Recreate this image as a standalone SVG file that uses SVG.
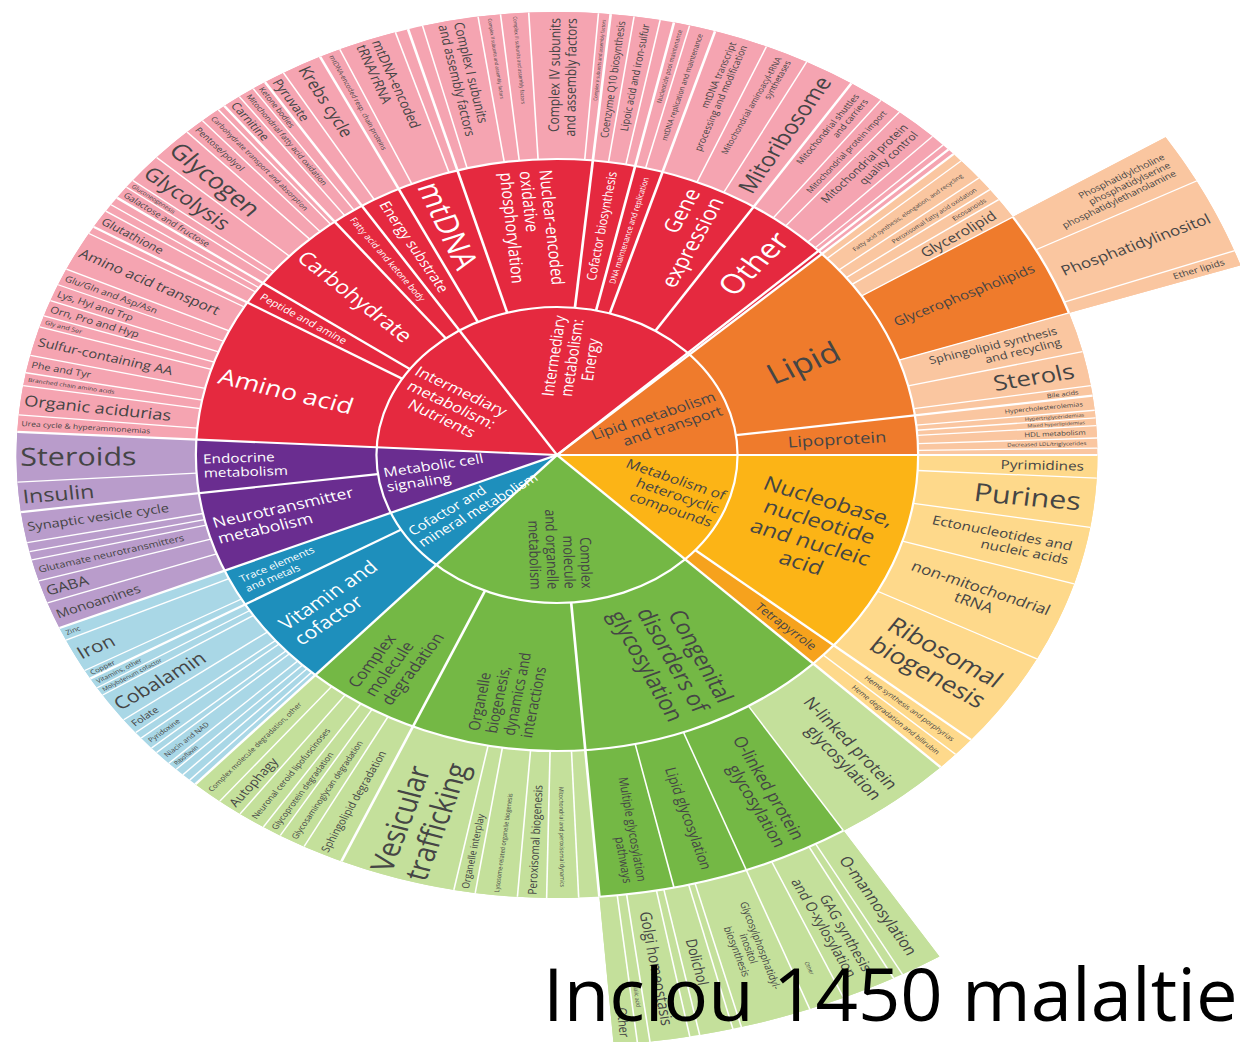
<svg xmlns="http://www.w3.org/2000/svg" width="1240" height="1042" viewBox="0 0 1240 1042">
<style>
.s{fill:none}
.k1{stroke-width:148}
.k3{stroke-width:147}
.red{stroke:#E5293F}.pink{stroke:#F5A4B1}.org{stroke:#EF7B2C}.pch{stroke:#FAC6A0}.yel{stroke:#FCB416}.tet{stroke:#F6A21D}.lyel{stroke:#FED98B}.grn{stroke:#74B845}.lgrn{stroke:#C4E09B}.blu{stroke:#1E8FBC}.lblu{stroke:#A9D7E6}.pur{stroke:#6A2D90}.lpur{stroke:#B99CCB}
text{font-family:"Open Sans","Noto Sans","DejaVu Sans",sans-serif}
.w{fill:#fff}.d{fill:#454545}
.ts{text-anchor:start}.te{text-anchor:end}.tm{text-anchor:middle}
.sp{stroke:#fff;stroke-width:2.2;vector-effect:non-scaling-stroke;fill:none}
.sq{stroke:#fff;stroke-width:1.3;vector-effect:non-scaling-stroke;fill:none}
.sa{stroke:#fff;stroke-width:2;fill:none}
</style>
<rect width="1240" height="1042" fill="#fff"/>
<g id="sunburst" transform="translate(557,455) scale(1.22,1)">
<g id="bases">
<circle class="s k3 pink" r="369.5" pathLength="360" stroke-dasharray="134.2 360" transform="rotate(183)"/>
<circle class="s k3 pch" r="369.5" pathLength="360" stroke-dasharray="42.8 360" transform="rotate(317.2)"/>
<circle class="s k3 lyel" r="369.5" pathLength="360" stroke-dasharray="44.8 360" transform="rotate(0)"/>
<circle class="s k3 lgrn" r="369.5" pathLength="360" stroke-dasharray="87.2 360" transform="rotate(44.8)"/>
<circle class="s k3 lblu" r="369.5" pathLength="360" stroke-dasharray="25 360" transform="rotate(132)"/>
<circle class="s k3 lpur" r="369.5" pathLength="360" stroke-dasharray="26 360" transform="rotate(157)"/>
<circle class="s k1 pch" r="517.5" pathLength="360" stroke-dasharray="13.8 360" transform="rotate(327.5)"/>
<circle class="s k1 lgrn" r="517.5" pathLength="360" stroke-dasharray="27.5 360" transform="rotate(58)"/>
</g>

<g id="ring1">
<g id="n-energy"><circle class="s k1 red" r="74" pathLength="360" stroke-dasharray="79.9 360" transform="rotate(237.3)"/><text class="w tm" font-size="13.5" transform="rotate(277.25) translate(98)"><tspan x="0" dy="-0.77em">Intermediary</tspan><tspan x="0" dy="1.12em">metabolism:</tspan><tspan x="0" dy="1.12em">Energy</tspan></text></g>
<g id="n-nutrients"><circle class="s k1 red" r="74" pathLength="360" stroke-dasharray="54.3 360" transform="rotate(183)"/><text class="w tm" font-size="14" transform="rotate(210.15) translate(100) rotate(180)"><tspan x="0" dy="-0.77em">Intermediary</tspan><tspan x="0" dy="1.12em">metabolism:</tspan><tspan x="0" dy="1.12em">Nutrients</tspan></text></g>
<g id="n-lipidmt"><circle class="s k1 org" r="74" pathLength="360" stroke-dasharray="42.8 360" transform="rotate(317.2)"/><text class="d te" font-size="13.5" transform="rotate(338.6) translate(142)"><tspan x="0" dy="-0.21em">Lipid metabolism</tspan><tspan x="0" dy="1.12em">and transport</tspan></text></g>
<g id="n-hetero"><circle class="s k1 yel" r="74" pathLength="360" stroke-dasharray="44.8 360" transform="rotate(0)"/><text class="d te" font-size="13" transform="rotate(22.4) translate(143)"><tspan x="0" dy="-0.77em">Metabolism of</tspan><tspan x="0" dy="1.12em">heterocyclic</tspan><tspan x="0" dy="1.12em">compounds</tspan></text></g>
<g id="n-complexmo"><circle class="s k1 grn" r="74" pathLength="360" stroke-dasharray="87.2 360" transform="rotate(44.8)"/><text class="d te" font-size="12.5" transform="rotate(88.4) translate(134)"><tspan x="0" dy="-1.33em">Complex</tspan><tspan x="0" dy="1.12em">molecule</tspan><tspan x="0" dy="1.12em">and organelle</tspan><tspan x="0" dy="1.12em">metabolism</tspan></text></g>
<g id="n-cofmin"><circle class="s k1 blu" r="74" pathLength="360" stroke-dasharray="25 360" transform="rotate(132)"/><text class="w ts" font-size="12.5" transform="rotate(144.5) translate(143) rotate(180)"><tspan x="0" dy="-0.21em">Cofactor and</tspan><tspan x="0" dy="1.12em">mineral metabolism</tspan></text></g>
<g id="n-signal"><circle class="s k1 pur" r="74" pathLength="360" stroke-dasharray="26 360" transform="rotate(157)"/><text class="w ts" font-size="13" transform="rotate(170) translate(143) rotate(180)"><tspan x="0" dy="-0.21em">Metabolic cell</tspan><tspan x="0" dy="1.12em">signaling</tspan></text></g>
</g>

<g id="ring2">
<g id="n-aminoacid"><circle class="s k1 red" r="222" pathLength="360" stroke-dasharray="28 360" transform="rotate(183)"/><text class="w ts" font-size="22" dy=".35em" transform="rotate(196) translate(288) rotate(180)">Amino acid</text></g>
<g id="n-peptide"><circle class="s k1 red" r="222" pathLength="360" stroke-dasharray="4.5 360" transform="rotate(211)"/><text class="w ts" font-size="9.5" dy=".35em" transform="rotate(213.25) translate(290) rotate(180)">Peptide and amine</text></g>
<g id="n-carbo"><circle class="s k1 red" r="222" pathLength="360" stroke-dasharray="16.5 360" transform="rotate(215.5)"/><text class="w ts" font-size="19" dy=".35em" transform="rotate(223.75) translate(290) rotate(180)">Carbohydrate</text></g>
<g id="n-fattyket"><circle class="s k1 red" r="222" pathLength="360" stroke-dasharray="5.3 360" transform="rotate(232)"/><text class="w ts" font-size="8" dy=".35em" transform="rotate(234.65) translate(290) rotate(180)">Fatty acid and ketone body</text></g>
<g id="n-energysub"><circle class="s k1 red" r="222" pathLength="360" stroke-dasharray="6.7 360" transform="rotate(237.3)"/><text class="w ts" font-size="13" dy=".35em" transform="rotate(240.65) translate(290) rotate(180)">Energy substrate</text></g>
<g id="n-mtdna"><circle class="s k1 red" r="222" pathLength="360" stroke-dasharray="10 360" transform="rotate(244)"/><text class="w ts" font-size="27" dy=".35em" transform="rotate(248.7) translate(292) rotate(180)">mtDNA</text></g>
<g id="n-nuclear"><circle class="s k1 red" r="222" pathLength="360" stroke-dasharray="21.7 360" transform="rotate(254)"/><text class="w ts" font-size="14.5" transform="rotate(264.85) translate(285) rotate(180)"><tspan x="0" dy="-0.77em">Nuclear-encoded</tspan><tspan x="0" dy="1.12em">oxidative</tspan><tspan x="0" dy="1.12em">phosphorylation</tspan></text></g>
<g id="n-cofbio"><circle class="s k1 red" r="222" pathLength="360" stroke-dasharray="6.8 360" transform="rotate(275.7)"/><text class="w te" font-size="11" dy=".35em" transform="rotate(279.1) translate(287)">Cofactor biosynthesis</text></g>
<g id="n-dnamaint"><circle class="s k1 red" r="222" pathLength="360" stroke-dasharray="4.5 360" transform="rotate(282.5)"/><text class="w te" font-size="7" dy=".35em" transform="rotate(284.75) translate(287)">DNA maintenance and replication</text></g>
<g id="n-geneexp"><circle class="s k1 red" r="222" pathLength="360" stroke-dasharray="16 360" transform="rotate(287)"/><text class="w te" font-size="19" transform="rotate(295) translate(288)"><tspan x="0" dy="-0.21em">Gene</tspan><tspan x="0" dy="1.12em">expression</tspan></text></g>
<g id="n-other"><circle class="s k1 red" r="222" pathLength="360" stroke-dasharray="14.2 360" transform="rotate(303)"/><text class="w te" font-size="27" dy=".35em" transform="rotate(310.1) translate(287)">Other</text></g>
<g id="n-lipid"><circle class="s k1 org" r="222" pathLength="360" stroke-dasharray="35.1 360" transform="rotate(317.2)"/><text class="d tm" font-size="28" dy=".35em" transform="rotate(335.5) translate(222)">Lipid</text></g>
<g id="n-lipoprot"><circle class="s k1 org" r="222" pathLength="360" stroke-dasharray="7.7 360" transform="rotate(352.3)"/><text class="d tm" font-size="15" dy=".35em" transform="rotate(356.15) translate(230)">Lipoprotein</text></g>
<g id="n-nucleobase"><circle class="s k1 yel" r="222" pathLength="360" stroke-dasharray="40 360" transform="rotate(0)"/><text class="d tm" font-size="19.5" transform="rotate(20) translate(225)"><tspan x="0" dy="-1.33em">Nucleobase,</tspan><tspan x="0" dy="1.12em">nucleotide</tspan><tspan x="0" dy="1.12em">and nucleic</tspan><tspan x="0" dy="1.12em">acid</tspan></text></g>
<g id="n-tetrapyr"><circle class="s k1 tet" r="222" pathLength="360" stroke-dasharray="4.8 360" transform="rotate(40)"/><text class="d te" font-size="11" dy=".35em" transform="rotate(42.4) translate(286)">Tetrapyrrole</text></g>
<g id="n-congenital"><circle class="s k1 grn" r="222" pathLength="360" stroke-dasharray="40.7 360" transform="rotate(44.8)"/><text class="d te" font-size="20" transform="rotate(65.15) translate(282)"><tspan x="0" dy="-0.77em">Congenital</tspan><tspan x="0" dy="1.12em">disorders of</tspan><tspan x="0" dy="1.12em">glycosylation</tspan></text></g>
<g id="n-organelle"><circle class="s k1 grn" r="222" pathLength="360" stroke-dasharray="28 360" transform="rotate(85.5)"/><text class="d ts" font-size="13" transform="rotate(99.5) translate(283) rotate(180)"><tspan x="0" dy="-1.33em">Organelle</tspan><tspan x="0" dy="1.12em">biogenesis,</tspan><tspan x="0" dy="1.12em">dynamics and</tspan><tspan x="0" dy="1.12em">interactions</tspan></text></g>
<g id="n-cmdeg"><circle class="s k1 grn" r="222" pathLength="360" stroke-dasharray="18.5 360" transform="rotate(113.5)"/><text class="d ts" font-size="14.5" transform="rotate(122.75) translate(285) rotate(180)"><tspan x="0" dy="-0.77em">Complex</tspan><tspan x="0" dy="1.12em">molecule</tspan><tspan x="0" dy="1.12em">degradation</tspan></text></g>
<g id="n-vitamin"><circle class="s k1 blu" r="222" pathLength="360" stroke-dasharray="17.7 360" transform="rotate(132)"/><text class="w ts" font-size="17.5" transform="rotate(140.85) translate(283) rotate(180)"><tspan x="0" dy="-0.21em">Vitamin and</tspan><tspan x="0" dy="1.12em">cofactor</tspan></text></g>
<g id="n-trace"><circle class="s k1 blu" r="222" pathLength="360" stroke-dasharray="7.3 360" transform="rotate(149.7)"/><text class="w ts" font-size="9.5" transform="rotate(153.35) translate(288) rotate(180)"><tspan x="0" dy="-0.21em">Trace elements</tspan><tspan x="0" dy="1.12em">and metals</tspan></text></g>
<g id="n-neurotrans"><circle class="s k1 pur" r="222" pathLength="360" stroke-dasharray="15.6 360" transform="rotate(157)"/><text class="w ts" font-size="14.5" transform="rotate(164.8) translate(290) rotate(180)"><tspan x="0" dy="-0.21em">Neurotransmitter</tspan><tspan x="0" dy="1.12em">metabolism</tspan></text></g>
<g id="n-endocrine"><circle class="s k1 pur" r="222" pathLength="360" stroke-dasharray="10.4 360" transform="rotate(172.6)"/><text class="w ts" font-size="12.5" transform="rotate(177.8) translate(290) rotate(180)"><tspan x="0" dy="-0.21em">Endocrine</tspan><tspan x="0" dy="1.12em">metabolism</tspan></text></g>
</g>

<g id="ring3">
<g id="n-pyrimidines"><circle class="s k3 lyel" r="369.5" pathLength="360" stroke-dasharray="3 360"/><text class="d te" font-size="12.5" dy=".35em" transform="rotate(1.5) translate(432)">Pyrimidines</text></g>
<g id="n-purines"><circle class="s k3 lyel" r="369.5" pathLength="360" stroke-dasharray="6.4 360" transform="rotate(3)"/><text class="d te" font-size="25" dy=".35em" transform="rotate(6.2) translate(432)">Purines</text></g>
<g id="n-ecto"><circle class="s k3 lyel" r="369.5" pathLength="360" stroke-dasharray="7.5 360" transform="rotate(9.4)"/><text class="d te" font-size="12.5" transform="rotate(13.15) translate(432)"><tspan x="0" dy="-0.21em">Ectonucleotides and</tspan><tspan x="0" dy="1.12em">nucleic acids</tspan></text></g>
<g id="n-nmt"><circle class="s k3 lyel" r="369.5" pathLength="360" stroke-dasharray="10.5 360" transform="rotate(16.9)"/><text class="d tm" font-size="14" transform="rotate(22.15) translate(372)"><tspan x="0" dy="-0.21em">non-mitochondrial</tspan><tspan x="0" dy="1.12em">tRNA</tspan></text></g>
<g id="n-ribo"><circle class="s k3 lyel" r="369.5" pathLength="360" stroke-dasharray="12.6 360" transform="rotate(27.4)"/><text class="d te" font-size="22" transform="rotate(33.7) translate(428)"><tspan x="0" dy="-0.21em">Ribosomal</tspan><tspan x="0" dy="1.12em">biogenesis</tspan></text></g>
<g id="n-heme1"><circle class="s k3 lyel" r="369.5" pathLength="360" stroke-dasharray="2.5 360" transform="rotate(40)"/><text class="d te" font-size="6.5" dy=".35em" transform="rotate(41.25) translate(432)">Heme synthesis and porphyrias</text></g>
<g id="n-heme2"><circle class="s k3 lyel" r="369.5" pathLength="360" stroke-dasharray="2.3 360" transform="rotate(42.5)"/><text class="d te" font-size="6.5" dy=".35em" transform="rotate(43.65) translate(432)">Heme degradation and bilirubin</text></g>
<g id="n-nlink"><circle class="s k3 lgrn" r="369.5" pathLength="360" stroke-dasharray="13.2 360" transform="rotate(44.8)"/><text class="d te" font-size="15" transform="rotate(51.4) translate(432)"><tspan x="0" dy="-0.21em">N-linked protein</tspan><tspan x="0" dy="1.12em">glycosylation</tspan></text></g>
<g id="n-olink"><circle class="s k3 grn" r="369.5" pathLength="360" stroke-dasharray="11.5 360" transform="rotate(58)"/><text class="d te" font-size="15" transform="rotate(63.75) translate(432)"><tspan x="0" dy="-0.21em">O-linked protein</tspan><tspan x="0" dy="1.12em">glycosylation</tspan></text></g>
<g id="n-lipglyc"><circle class="s k3 grn" r="369.5" pathLength="360" stroke-dasharray="8 360" transform="rotate(69.5)"/><text class="d te" font-size="12.5" dy=".35em" transform="rotate(73.5) translate(432)">Lipid glycosylation</text></g>
<g id="n-multi"><circle class="s k3 grn" r="369.5" pathLength="360" stroke-dasharray="8 360" transform="rotate(77.5)"/><text class="d te" font-size="10.5" transform="rotate(81.5) translate(432)"><tspan x="0" dy="-0.21em">Multiple glycosylation</tspan><tspan x="0" dy="1.12em">pathways</tspan></text></g>
<g id="n-mpd"><circle class="s k3 lgrn" r="369.5" pathLength="360" stroke-dasharray="3.4 360" transform="rotate(87.7)"/><text class="d te" font-size="5.2" dy=".35em" transform="rotate(89.4) translate(432)">Mitochondrial and peroxisomal dynamics</text></g>
<g id="n-perox"><circle class="s k3 lgrn" r="369.5" pathLength="360" stroke-dasharray="3.1 360" transform="rotate(91.1)"/><text class="d ts" font-size="10" dy=".35em" transform="rotate(92.65) translate(440) rotate(180)">Peroxisomal biogenesis</text></g>
<g id="n-lyso"><circle class="s k3 lgrn" r="369.5" pathLength="360" stroke-dasharray="4.5 360" transform="rotate(94.2)"/><text class="d ts" font-size="5.5" dy=".35em" transform="rotate(96.45) translate(440) rotate(180)">Lysosome-related organelle biogenesis</text></g>
<g id="n-interplay"><circle class="s k3 lgrn" r="369.5" pathLength="360" stroke-dasharray="2.3 360" transform="rotate(98.7)"/><text class="d ts" font-size="8.5" dy=".35em" transform="rotate(99.85) translate(440) rotate(180)">Organelle interplay</text></g>
<g id="n-vesic"><circle class="s k3 lgrn" r="369.5" pathLength="360" stroke-dasharray="12.5 360" transform="rotate(101)"/><text class="d ts" font-size="26" transform="rotate(107.25) translate(440) rotate(180)"><tspan x="0" dy="-0.21em">Vesicular</tspan><tspan x="0" dy="1.12em">trafficking</tspan></text></g>
<g id="n-sphdeg"><circle class="s k3 lgrn" r="369.5" pathLength="360" stroke-dasharray="4.4 360" transform="rotate(113.5)"/><text class="d ts" font-size="9.5" dy=".35em" transform="rotate(115.7) translate(440) rotate(180)">Sphingolipid degradation</text></g>
<g id="n-gagdeg"><circle class="s k3 lgrn" r="369.5" pathLength="360" stroke-dasharray="2.9 360" transform="rotate(117.9)"/><text class="d ts" font-size="7.5" dy=".35em" transform="rotate(119.35) translate(440) rotate(180)">Glycosaminoglycan degradation</text></g>
<g id="n-glycodeg"><circle class="s k3 lgrn" r="369.5" pathLength="360" stroke-dasharray="2.1 360" transform="rotate(120.8)"/><text class="d ts" font-size="7.5" dy=".35em" transform="rotate(121.85) translate(440) rotate(180)">Glycoprotein degradation</text></g>
<g id="n-ncl"><circle class="s k3 lgrn" r="369.5" pathLength="360" stroke-dasharray="3 360" transform="rotate(122.9)"/><text class="d ts" font-size="7.5" dy=".35em" transform="rotate(124.4) translate(440) rotate(180)">Neuronal ceroid lipofuscinoses</text></g>
<g id="n-auto"><circle class="s k3 lgrn" r="369.5" pathLength="360" stroke-dasharray="2.7 360" transform="rotate(125.9)"/><text class="d ts" font-size="11.5" dy=".35em" transform="rotate(127.25) translate(440) rotate(180)">Autophagy</text></g>
<g id="n-cmdoth"><circle class="s k3 lgrn" r="369.5" pathLength="360" stroke-dasharray="3.4 360" transform="rotate(128.6)"/><text class="d ts" font-size="6.5" dy=".35em" transform="rotate(130.3) translate(440) rotate(180)">Complex molecule degradation, other</text></g>
<g id="n-ribofl"><circle class="s k3 lblu" r="369.5" pathLength="360" stroke-dasharray="1.1 360" transform="rotate(134.8)"/><text class="d ts" font-size="5.5" dy=".35em" transform="rotate(135.35) translate(440) rotate(180)">Riboflavin</text></g>
<g id="n-niacin"><circle class="s k3 lblu" r="369.5" pathLength="360" stroke-dasharray="1.9 360" transform="rotate(135.9)"/><text class="d ts" font-size="6.5" dy=".35em" transform="rotate(136.85) translate(440) rotate(180)">Niacin and NAD</text></g>
<g id="n-pyridox"><circle class="s k3 lblu" r="369.5" pathLength="360" stroke-dasharray="1.7 360" transform="rotate(138.6)"/><text class="d ts" font-size="6.5" dy=".35em" transform="rotate(139.45) translate(440) rotate(180)">Pyridoxine</text></g>
<g id="n-folate"><circle class="s k3 lblu" r="369.5" pathLength="360" stroke-dasharray="2.1 360" transform="rotate(141.2)"/><text class="d ts" font-size="9" dy=".35em" transform="rotate(142.25) translate(440) rotate(180)">Folate</text></g>
<g id="n-cobal"><circle class="s k3 lblu" r="369.5" pathLength="360" stroke-dasharray="3.9 360" transform="rotate(143.3)"/><text class="d ts" font-size="17.5" dy=".35em" transform="rotate(145.25) translate(440) rotate(180)">Cobalamin</text></g>
<g id="n-molyb"><circle class="s k3 lblu" r="369.5" pathLength="360" stroke-dasharray="1.1 360" transform="rotate(147.2)"/><text class="d ts" font-size="5.5" dy=".35em" transform="rotate(147.75) translate(440) rotate(180)">Molybdenum cofactor</text></g>
<g id="n-vitoth"><circle class="s k3 lblu" r="369.5" pathLength="360" stroke-dasharray="1.4 360" transform="rotate(148.3)"/><text class="d ts" font-size="6" dy=".35em" transform="rotate(149) translate(440) rotate(180)">Vitamins, other</text></g>
<g id="n-copper"><circle class="s k3 lblu" r="369.5" pathLength="360" stroke-dasharray="1.2 360" transform="rotate(149.7)"/><text class="d ts" font-size="6.5" dy=".35em" transform="rotate(150.3) translate(440) rotate(180)">Copper</text></g>
<g id="n-iron"><circle class="s k3 lblu" r="369.5" pathLength="360" stroke-dasharray="4.4 360" transform="rotate(150.9)"/><text class="d ts" font-size="17" dy=".35em" transform="rotate(153.1) translate(440) rotate(180)">Iron</text></g>
<g id="n-zinc"><circle class="s k3 lblu" r="369.5" pathLength="360" stroke-dasharray="1.7 360" transform="rotate(155.3)"/><text class="d ts" font-size="6.5" dy=".35em" transform="rotate(156.15) translate(440) rotate(180)">Zinc</text></g>
<g id="n-monoam"><circle class="s k3 lpur" r="369.5" pathLength="360" stroke-dasharray="3.5 360" transform="rotate(157)"/><text class="d ts" font-size="12" dy=".35em" transform="rotate(158.75) translate(440) rotate(180)">Monoamines</text></g>
<g id="n-gaba"><circle class="s k3 lpur" r="369.5" pathLength="360" stroke-dasharray="3 360" transform="rotate(160.5)"/><text class="d ts" font-size="13.5" dy=".35em" transform="rotate(162) translate(440) rotate(180)">GABA</text></g>
<g id="n-glut"><circle class="s k3 lpur" r="369.5" pathLength="360" stroke-dasharray="2.8 360" transform="rotate(163.5)"/><text class="d ts" font-size="9" dy=".35em" transform="rotate(164.9) translate(440) rotate(180)">Glutamate neurotransmitters</text></g>
<g id="n-synap"><circle class="s k3 lpur" r="369.5" pathLength="360" stroke-dasharray="4 360" transform="rotate(168.6)"/><text class="d ts" font-size="12" dy=".35em" transform="rotate(170.6) translate(440) rotate(180)">Synaptic vesicle cycle</text></g>
<g id="n-insulin"><circle class="s k3 lpur" r="369.5" pathLength="360" stroke-dasharray="3.9 360" transform="rotate(172.6)"/><text class="d ts" font-size="19" dy=".35em" transform="rotate(174.55) translate(440) rotate(180)">Insulin</text></g>
<g id="n-steroids"><circle class="s k3 lpur" r="369.5" pathLength="360" stroke-dasharray="6.5 360" transform="rotate(176.5)"/><text class="d ts" font-size="25" dy=".35em" transform="rotate(179.75) translate(440) rotate(180)">Steroids</text></g>
<g id="n-urea"><circle class="s k3 pink" r="369.5" pathLength="360" stroke-dasharray="2.2 360" transform="rotate(183)"/><text class="d ts" font-size="7" dy=".35em" transform="rotate(184.1) translate(440) rotate(180)">Urea cycle &amp; hyperammonemias</text></g>
<g id="n-organic"><circle class="s k3 pink" r="369.5" pathLength="360" stroke-dasharray="3.8 360" transform="rotate(185.2)"/><text class="d ts" font-size="15" dy=".35em" transform="rotate(187.1) translate(440) rotate(180)">Organic acidurias</text></g>
<g id="n-bcaa"><circle class="s k3 pink" r="369.5" pathLength="360" stroke-dasharray="1.7 360" transform="rotate(189)"/><text class="d ts" font-size="5.5" dy=".35em" transform="rotate(189.85) translate(440) rotate(180)">Branched chain amino acids</text></g>
<g id="n-phe"><circle class="s k3 pink" r="369.5" pathLength="360" stroke-dasharray="2.3 360" transform="rotate(190.7)"/><text class="d ts" font-size="9" dy=".35em" transform="rotate(191.85) translate(440) rotate(180)">Phe and Tyr</text></g>
<g id="n-sulfur"><circle class="s k3 pink" r="369.5" pathLength="360" stroke-dasharray="3.8 360" transform="rotate(193)"/><text class="d ts" font-size="12" dy=".35em" transform="rotate(194.9) translate(440) rotate(180)">Sulfur-containing AA</text></g>
<g id="n-gly"><circle class="s k3 pink" r="369.5" pathLength="360" stroke-dasharray="1.5 360" transform="rotate(196.8)"/><text class="d ts" font-size="6" dy=".35em" transform="rotate(197.55) translate(440) rotate(180)">Gly and Ser</text></g>
<g id="n-orn"><circle class="s k3 pink" r="369.5" pathLength="360" stroke-dasharray="2.1 360" transform="rotate(198.3)"/><text class="d ts" font-size="9.5" dy=".35em" transform="rotate(199.35) translate(440) rotate(180)">Orn, Pro and Hyp</text></g>
<g id="n-lys"><circle class="s k3 pink" r="369.5" pathLength="360" stroke-dasharray="2.2 360" transform="rotate(200.4)"/><text class="d ts" font-size="9" dy=".35em" transform="rotate(201.5) translate(440) rotate(180)">Lys, Hyl and Trp</text></g>
<g id="n-glu"><circle class="s k3 pink" r="369.5" pathLength="360" stroke-dasharray="2.2 360" transform="rotate(202.6)"/><text class="d ts" font-size="8.5" dy=".35em" transform="rotate(203.7) translate(440) rotate(180)">Glu/Gln and Asp/Asn</text></g>
<g id="n-aat"><circle class="s k3 pink" r="369.5" pathLength="360" stroke-dasharray="5.2 360" transform="rotate(204.8)"/><text class="d ts" font-size="13" dy=".35em" transform="rotate(207.4) translate(440) rotate(180)">Amino acid transport</text></g>
<g id="n-gsh"><circle class="s k3 pink" r="369.5" pathLength="360" stroke-dasharray="2.4 360" transform="rotate(211)"/><text class="d ts" font-size="10.5" dy=".35em" transform="rotate(212.2) translate(440) rotate(180)">Glutathione</text></g>
<g id="n-galac"><circle class="s k3 pink" r="369.5" pathLength="360" stroke-dasharray="1.7 360" transform="rotate(215.5)"/><text class="d ts" font-size="8" dy=".35em" transform="rotate(216.35) translate(440) rotate(180)">Galactose and fructose</text></g>
<g id="n-glucon"><circle class="s k3 pink" r="369.5" pathLength="360" stroke-dasharray="1.1 360" transform="rotate(217.2)"/><text class="d ts" font-size="5.5" dy=".35em" transform="rotate(217.75) translate(440) rotate(180)">Gluconeogenesis</text></g>
<g id="n-glycolysis"><circle class="s k3 pink" r="369.5" pathLength="360" stroke-dasharray="3.9 360" transform="rotate(218.3)"/><text class="d ts" font-size="19" dy=".35em" transform="rotate(220.25) translate(440) rotate(180)">Glycolysis</text></g>
<g id="n-glycogen"><circle class="s k3 pink" r="369.5" pathLength="360" stroke-dasharray="4.6 360" transform="rotate(222.2)"/><text class="d ts" font-size="22" dy=".35em" transform="rotate(224.5) translate(440) rotate(180)">Glycogen</text></g>
<g id="n-pentose"><circle class="s k3 pink" r="369.5" pathLength="360" stroke-dasharray="2.2 360" transform="rotate(226.8)"/><text class="d ts" font-size="8" dy=".35em" transform="rotate(227.9) translate(440) rotate(180)">Pentose/polyol</text></g>
<g id="n-cta"><circle class="s k3 pink" r="369.5" pathLength="360" stroke-dasharray="2.2 360" transform="rotate(229)"/><text class="d ts" font-size="6.5" dy=".35em" transform="rotate(230.1) translate(440) rotate(180)">Carbohydrate transport and absorption</text></g>
<g id="n-carnitine"><circle class="s k3 pink" r="369.5" pathLength="360" stroke-dasharray="2 360" transform="rotate(232)"/><text class="d ts" font-size="10.5" dy=".35em" transform="rotate(233) translate(440) rotate(180)">Carnitine</text></g>
<g id="n-mfao"><circle class="s k3 pink" r="369.5" pathLength="360" stroke-dasharray="1.8 360" transform="rotate(234)"/><text class="d ts" font-size="7" dy=".35em" transform="rotate(234.9) translate(440) rotate(180)">Mitochondrial fatty acid oxidation</text></g>
<g id="n-ketone"><circle class="s k3 pink" r="369.5" pathLength="360" stroke-dasharray="1.5 360" transform="rotate(235.8)"/><text class="d ts" font-size="7" dy=".35em" transform="rotate(236.55) translate(440) rotate(180)">Ketone bodies</text></g>
<g id="n-pyruvate"><circle class="s k3 pink" r="369.5" pathLength="360" stroke-dasharray="2.3 360" transform="rotate(237.3)"/><text class="d ts" font-size="11.5" dy=".35em" transform="rotate(238.45) translate(440) rotate(180)">Pyruvate</text></g>
<g id="n-krebs"><circle class="s k3 pink" r="369.5" pathLength="360" stroke-dasharray="4.4 360" transform="rotate(239.6)"/><text class="d ts" font-size="15" dy=".35em" transform="rotate(241.8) translate(440) rotate(180)">Krebs cycle</text></g>
<g id="n-mtresp"><circle class="s k3 pink" r="369.5" pathLength="360" stroke-dasharray="2.3 360" transform="rotate(244)"/><text class="d ts" font-size="6" dy=".35em" transform="rotate(245.15) translate(440) rotate(180)">mtDNA-encoded resp. chain proteins</text></g>
<g id="n-mttrna"><circle class="s k3 pink" r="369.5" pathLength="360" stroke-dasharray="6.3 360" transform="rotate(246.3)"/><text class="d ts" font-size="12" transform="rotate(249.45) translate(440) rotate(180)"><tspan x="0" dy="-0.21em">mtDNA-encoded</tspan><tspan x="0" dy="1.12em">tRNA/rRNA</tspan></text></g>
<g id="n-c1"><circle class="s k3 pink" r="369.5" pathLength="360" stroke-dasharray="6 360" transform="rotate(255.6)"/><text class="d ts" font-size="11.5" transform="rotate(258.6) translate(440) rotate(180)"><tspan x="0" dy="-0.21em">Complex I subunits</tspan><tspan x="0" dy="1.12em">and assembly factors</tspan></text></g>
<g id="n-c2"><circle class="s k3 pink" r="369.5" pathLength="360" stroke-dasharray="2.4 360" transform="rotate(261.6)"/><text class="d ts" font-size="4.2" dy=".35em" transform="rotate(262.8) translate(440) rotate(180)">Complex II subunits and assembly factors</text></g>
<g id="n-c3"><circle class="s k3 pink" r="369.5" pathLength="360" stroke-dasharray="3 360" transform="rotate(264)"/><text class="d ts" font-size="4.5" dy=".35em" transform="rotate(265.5) translate(440) rotate(180)">Complex III subunits and assembly factors</text></g>
<g id="n-c4"><circle class="s k3 pink" r="369.5" pathLength="360" stroke-dasharray="7.4 360" transform="rotate(267)"/><text class="d te" font-size="12" transform="rotate(270.7) translate(437)"><tspan x="0" dy="-0.21em">Complex IV subunits</tspan><tspan x="0" dy="1.12em">and assembly factors</tspan></text></g>
<g id="n-c5"><circle class="s k3 pink" r="369.5" pathLength="360" stroke-dasharray="1.3 360" transform="rotate(274.4)"/><text class="d te" font-size="4.2" dy=".35em" transform="rotate(275.05) translate(437)">Complex V subunits and assembly factors</text></g>
<g id="n-q10"><circle class="s k3 pink" r="369.5" pathLength="360" stroke-dasharray="2.5 360" transform="rotate(275.7)"/><text class="d te" font-size="9" dy=".35em" transform="rotate(276.95) translate(437)">Coenzyme Q10 biosynthesis</text></g>
<g id="n-lipoic"><circle class="s k3 pink" r="369.5" pathLength="360" stroke-dasharray="2.8 360" transform="rotate(278.2)"/><text class="d te" font-size="9" dy=".35em" transform="rotate(279.6) translate(437)">Lipoic acid and iron-sulfur</text></g>
<g id="n-npm"><circle class="s k3 pink" r="369.5" pathLength="360" stroke-dasharray="1.7 360" transform="rotate(282.5)"/><text class="d te" font-size="5.5" dy=".35em" transform="rotate(283.35) translate(437)">Nucleotide pool maintenance</text></g>
<g id="n-mtrep"><circle class="s k3 pink" r="369.5" pathLength="360" stroke-dasharray="2.8 360" transform="rotate(284.2)"/><text class="d te" font-size="6.5" dy=".35em" transform="rotate(285.6) translate(437)">mtDNA replication and maintenance</text></g>
<g id="n-mttx"><circle class="s k3 pink" r="369.5" pathLength="360" stroke-dasharray="5.8 360" transform="rotate(287)"/><text class="d te" font-size="8.5" transform="rotate(289.9) translate(437)"><tspan x="0" dy="-0.21em">mtDNA transcript</tspan><tspan x="0" dy="1.12em">processing and modification</tspan></text></g>
<g id="n-aars"><circle class="s k3 pink" r="369.5" pathLength="360" stroke-dasharray="4.7 360" transform="rotate(292.8)"/><text class="d te" font-size="7.5" transform="rotate(295.15) translate(437)"><tspan x="0" dy="-0.21em">Mitochondrial aminoacyl-tRNA</tspan><tspan x="0" dy="1.12em">synthetases</tspan></text></g>
<g id="n-mitorib"><circle class="s k3 pink" r="369.5" pathLength="360" stroke-dasharray="5.5 360" transform="rotate(297.5)"/><text class="d te" font-size="20" dy=".35em" transform="rotate(300.25) translate(436)">Mitoribosome</text></g>
<g id="n-shuttle"><circle class="s k3 pink" r="369.5" pathLength="360" stroke-dasharray="3.8 360" transform="rotate(303)"/><text class="d te" font-size="8" transform="rotate(304.9) translate(436)"><tspan x="0" dy="-0.21em">Mitochondrial shuttles</tspan><tspan x="0" dy="1.12em">and carriers</tspan></text></g>
<g id="n-import"><circle class="s k3 pink" r="369.5" pathLength="360" stroke-dasharray="2.5 360" transform="rotate(306.8)"/><text class="d te" font-size="7.5" dy=".35em" transform="rotate(308.05) translate(436)">Mitochondrial protein import</text></g>
<g id="n-qc"><circle class="s k3 pink" r="369.5" pathLength="360" stroke-dasharray="4.7 360" transform="rotate(309.3)"/><text class="d te" font-size="10" transform="rotate(311.65) translate(436)"><tspan x="0" dy="-0.21em">Mitochondrial protein</tspan><tspan x="0" dy="1.12em">quality control</tspan></text></g>
<g id="n-fas"><circle class="s k3 pch" r="369.5" pathLength="360" stroke-dasharray="2.9 360" transform="rotate(318.4)"/><text class="d te" font-size="5.5" dy=".35em" transform="rotate(319.85) translate(434)">Fatty acid synthesis, elongation, and recycling</text></g>
<g id="n-pfao"><circle class="s k3 pch" r="369.5" pathLength="360" stroke-dasharray="1.9 360" transform="rotate(321.3)"/><text class="d te" font-size="5.8" dy=".35em" transform="rotate(322.25) translate(434)">Peroxisomal fatty acid oxidation</text></g>
<g id="n-eico"><circle class="s k3 pch" r="369.5" pathLength="360" stroke-dasharray="1.6 360" transform="rotate(323.2)"/><text class="d te" font-size="6" dy=".35em" transform="rotate(324) translate(434)">Eicosanoids</text></g>
<g id="n-glycerolipid"><circle class="s k3 pch" r="369.5" pathLength="360" stroke-dasharray="2.7 360" transform="rotate(324.8)"/><text class="d te" font-size="13" dy=".35em" transform="rotate(326.15) translate(432)">Glycerolipid</text></g>
<g id="n-gpl"><circle class="s k3 org" r="369.5" pathLength="360" stroke-dasharray="13.8 360" transform="rotate(327.5)"/><text class="d tm" font-size="12.5" dy=".35em" transform="rotate(334.4) translate(370)">Glycerophospholipids</text></g>
<g id="n-sphsyn"><circle class="s k3 pch" r="369.5" pathLength="360" stroke-dasharray="5.2 360" transform="rotate(341.3)"/><text class="d te" font-size="10.5" transform="rotate(343.9) translate(428)"><tspan x="0" dy="-0.21em">Sphingolipid synthesis</tspan><tspan x="0" dy="1.12em">and recycling</tspan></text></g>
<g id="n-sterols"><circle class="s k3 pch" r="369.5" pathLength="360" stroke-dasharray="4.5 360" transform="rotate(346.5)"/><text class="d te" font-size="21" dy=".35em" transform="rotate(348.75) translate(432)">Sterols</text></g>
<g id="n-bile"><circle class="s k3 pch" r="369.5" pathLength="360" stroke-dasharray="1.3 360" transform="rotate(351)"/><text class="d te" font-size="6" dy=".35em" transform="rotate(351.65) translate(432)">Bile acids</text></g>
<g id="n-hyperchol"><circle class="s k3 pch" r="369.5" pathLength="360" stroke-dasharray="1.9 360" transform="rotate(352.3)"/><text class="d te" font-size="6" dy=".35em" transform="rotate(353.25) translate(434)">Hypercholesterolemias</text></g>
<g id="n-hypertg"><circle class="s k3 pch" r="369.5" pathLength="360" stroke-dasharray="1 360" transform="rotate(354.2)"/><text class="d te" font-size="4.8" dy=".35em" transform="rotate(354.7) translate(434)">Hypertriglyceridemias</text></g>
<g id="n-mixed"><circle class="s k3 pch" r="369.5" pathLength="360" stroke-dasharray="1 360" transform="rotate(355.2)"/><text class="d te" font-size="4.5" dy=".35em" transform="rotate(355.7) translate(434)">Mixed hyperlipidemias</text></g>
<g id="n-hdl"><circle class="s k3 pch" r="369.5" pathLength="360" stroke-dasharray="1.6 360" transform="rotate(356.2)"/><text class="d te" font-size="6.5" dy=".35em" transform="rotate(357) translate(434)">HDL metabolism</text></g>
<g id="n-decr"><circle class="s k3 pch" r="369.5" pathLength="360" stroke-dasharray="1.3 360" transform="rotate(357.8)"/><text class="d te" font-size="5" dy=".35em" transform="rotate(358.45) translate(434)">Decreased LDL/triglycerides</text></g>
</g>

<g id="ring4">
<g id="n-pc"><circle class="s k1 pch" r="517.5" pathLength="360" stroke-dasharray="4.9 360" transform="rotate(327.5)"/><text class="d te" font-size="8.5" transform="rotate(329.95) translate(580)"><tspan x="0" dy="-0.77em">Phosphatidylcholine</tspan><tspan x="0" dy="1.12em">phosphatidylserine</tspan><tspan x="0" dy="1.12em">phosphatidylethanolamine</tspan></text></g>
<g id="n-pi"><circle class="s k1 pch" r="517.5" pathLength="360" stroke-dasharray="7.4 360" transform="rotate(332.4)"/><text class="d te" font-size="14" dy=".35em" transform="rotate(336.1) translate(585)">Phosphatidylinositol</text></g>
<g id="n-ether"><circle class="s k1 pch" r="517.5" pathLength="360" stroke-dasharray="1.5 360" transform="rotate(339.8)"/><text class="d te" font-size="8.5" dy=".35em" transform="rotate(340.55) translate(580)">Ether lipids</text></g>
<g id="n-oman"><circle class="s k1 lgrn" r="517.5" pathLength="360" stroke-dasharray="3.4 360" transform="rotate(58)"/><text class="d te" font-size="14" dy=".35em" transform="rotate(59.7) translate(578)">O-mannosylation</text></g>
<g id="n-gag"><circle class="s k1 lgrn" r="517.5" pathLength="360" stroke-dasharray="4.4 360" transform="rotate(62.2)"/><text class="d te" font-size="12.5" transform="rotate(64.4) translate(575)"><tspan x="0" dy="-0.21em">GAG synthesis</tspan><tspan x="0" dy="1.12em">and O-xylosylation</tspan></text></g>
<g id="n-oth1"><circle class="s k1 lgrn" r="517.5" pathLength="360" stroke-dasharray="2.9 360" transform="rotate(66.6)"/><text class="d te" font-size="5" dy=".35em" transform="rotate(68.05) translate(560)">Other</text></g>
<g id="n-gpi"><circle class="s k1 lgrn" r="517.5" pathLength="360" stroke-dasharray="5.7 360" transform="rotate(69.5)"/><text class="d tm" font-size="9" transform="rotate(72.35) translate(518)"><tspan x="0" dy="-0.77em">Glycosylphosphatidyl-</tspan><tspan x="0" dy="1.12em">inositol</tspan><tspan x="0" dy="1.12em">biosynthesis</tspan></text></g>
<g id="n-dol"><circle class="s k1 lgrn" r="517.5" pathLength="360" stroke-dasharray="2.7 360" transform="rotate(75.9)"/><text class="d tm" font-size="12.5" dy=".35em" transform="rotate(77.25) translate(520)">Dolichol</text></g>
<g id="n-golgi"><circle class="s k1 lgrn" r="517.5" pathLength="360" stroke-dasharray="3.2 360" transform="rotate(79.4)"/><text class="d tm" font-size="13.5" dy=".35em" transform="rotate(81) translate(520)">Golgi homeostasis</text></g>
<g id="n-sia"><circle class="s k1 lgrn" r="517.5" pathLength="360" stroke-dasharray="1 360" transform="rotate(82.6)"/><text class="d tm" font-size="5" dy=".35em" transform="rotate(83.1) translate(545)">Sialic acid</text></g>
<g id="n-oth3"><circle class="s k1 lgrn" r="517.5" pathLength="360" stroke-dasharray="1.9 360" transform="rotate(83.6)"/><text class="d te" font-size="11" dy=".35em" transform="rotate(84.55) translate(585)">Other</text></g>
</g>

<g id="connectors">
<circle class="sp" r="148"/>
<circle class="sp" r="296"/>
<circle class="sa" r="443" pathLength="360" stroke-dasharray="27.5 360" transform="rotate(58)"/>
<circle class="sa" r="443" pathLength="360" stroke-dasharray="13.8 360" transform="rotate(327.5)"/>
<g class="sp">
<line x2="443"/><line x2="443" transform="rotate(44.8)"/><line x2="443" transform="rotate(132)"/><line x2="443" transform="rotate(157)"/><line x2="443" transform="rotate(183)"/><line x2="443" transform="rotate(237.3)"/><line x2="443" transform="rotate(317.2)"/><line x2="443" transform="rotate(316.4)"/>
<line x1="148" x2="443" transform="rotate(40)"/><line x1="148" x2="443" transform="rotate(85.5)"/><line x1="148" x2="443" transform="rotate(113.5)"/><line x1="148" x2="443" transform="rotate(149.7)"/><line x1="148" x2="443" transform="rotate(172.6)"/><line x1="148" x2="443" transform="rotate(211)"/><line x1="148" x2="443" transform="rotate(215.5)"/><line x1="148" x2="443" transform="rotate(232)"/><line x1="148" x2="443" transform="rotate(244)"/><line x1="148" x2="443" transform="rotate(254)"/><line x1="148" x2="443" transform="rotate(275.7)"/><line x1="148" x2="443" transform="rotate(282.5)"/><line x1="148" x2="443" transform="rotate(287)"/><line x1="148" x2="443" transform="rotate(303)"/><line x1="148" x2="443" transform="rotate(352.3)"/>
</g>
<g class="sq">
<line x1="296" x2="443" transform="rotate(3)"/><line x1="296" x2="443" transform="rotate(9.4)"/><line x1="296" x2="443" transform="rotate(16.9)"/><line x1="296" x2="443" transform="rotate(27.4)"/><line x1="296" x2="443" transform="rotate(42.5)"/><line x1="296" x2="443" transform="rotate(58)"/><line x1="296" x2="443" transform="rotate(69.5)"/><line x1="296" x2="443" transform="rotate(77.5)"/><line x1="296" x2="443" transform="rotate(87.7)"/><line x1="296" x2="443" transform="rotate(91.1)"/><line x1="296" x2="443" transform="rotate(94.2)"/><line x1="296" x2="443" transform="rotate(98.7)"/><line x1="296" x2="443" transform="rotate(101)"/><line x1="296" x2="443" transform="rotate(117.9)"/><line x1="296" x2="443" transform="rotate(120.8)"/><line x1="296" x2="443" transform="rotate(122.9)"/><line x1="296" x2="443" transform="rotate(125.9)"/><line x1="296" x2="443" transform="rotate(128.6)"/><line x1="296" x2="443" transform="rotate(132.8)"/><line x1="296" x2="443" transform="rotate(133.8)"/><line x1="296" x2="443" transform="rotate(134.8)"/><line x1="296" x2="443" transform="rotate(135.9)"/><line x1="296" x2="443" transform="rotate(137.8)"/><line x1="296" x2="443" transform="rotate(138.6)"/><line x1="296" x2="443" transform="rotate(140.3)"/><line x1="296" x2="443" transform="rotate(141.2)"/><line x1="296" x2="443" transform="rotate(143.3)"/><line x1="296" x2="443" transform="rotate(147.2)"/><line x1="296" x2="443" transform="rotate(148.3)"/><line x1="296" x2="443" transform="rotate(150.9)"/><line x1="296" x2="443" transform="rotate(155.3)"/><line x1="296" x2="443" transform="rotate(160.5)"/><line x1="296" x2="443" transform="rotate(163.5)"/><line x1="296" x2="443" transform="rotate(166.3)"/><line x1="296" x2="443" transform="rotate(167.4)"/><line x1="296" x2="443" transform="rotate(168.6)"/><line x1="296" x2="443" transform="rotate(176.5)"/><line x1="296" x2="443" transform="rotate(185.2)"/><line x1="296" x2="443" transform="rotate(189)"/><line x1="296" x2="443" transform="rotate(190.7)"/><line x1="296" x2="443" transform="rotate(193)"/><line x1="296" x2="443" transform="rotate(196.8)"/><line x1="296" x2="443" transform="rotate(198.3)"/><line x1="296" x2="443" transform="rotate(200.4)"/><line x1="296" x2="443" transform="rotate(202.6)"/><line x1="296" x2="443" transform="rotate(204.8)"/><line x1="296" x2="443" transform="rotate(210)"/><line x1="296" x2="443" transform="rotate(213.4)"/><line x1="296" x2="443" transform="rotate(214.4)"/><line x1="296" x2="443" transform="rotate(217.2)"/><line x1="296" x2="443" transform="rotate(218.3)"/><line x1="296" x2="443" transform="rotate(222.2)"/><line x1="296" x2="443" transform="rotate(226.8)"/><line x1="296" x2="443" transform="rotate(229)"/><line x1="296" x2="443" transform="rotate(231.2)"/><line x1="296" x2="443" transform="rotate(234)"/><line x1="296" x2="443" transform="rotate(235.8)"/><line x1="296" x2="443" transform="rotate(239.6)"/><line x1="296" x2="443" transform="rotate(246.3)"/><line x1="296" x2="443" transform="rotate(252.6)"/><line x1="296" x2="443" transform="rotate(255.6)"/><line x1="296" x2="443" transform="rotate(261.6)"/><line x1="296" x2="443" transform="rotate(264)"/><line x1="296" x2="443" transform="rotate(267)"/><line x1="296" x2="443" transform="rotate(274.4)"/><line x1="296" x2="443" transform="rotate(278.2)"/><line x1="296" x2="443" transform="rotate(281)"/><line x1="296" x2="443" transform="rotate(284.2)"/><line x1="296" x2="443" transform="rotate(292.8)"/><line x1="296" x2="443" transform="rotate(297.5)"/><line x1="296" x2="443" transform="rotate(306.8)"/><line x1="296" x2="443" transform="rotate(309.3)"/><line x1="296" x2="443" transform="rotate(314)"/><line x1="296" x2="443" transform="rotate(315.6)"/><line x1="296" x2="443" transform="rotate(318.4)"/><line x1="296" x2="443" transform="rotate(321.3)"/><line x1="296" x2="443" transform="rotate(323.2)"/><line x1="296" x2="443" transform="rotate(324.8)"/><line x1="296" x2="443" transform="rotate(327.5)"/><line x1="296" x2="443" transform="rotate(341.3)"/><line x1="296" x2="443" transform="rotate(346.5)"/><line x1="296" x2="443" transform="rotate(351)"/><line x1="296" x2="443" transform="rotate(354.2)"/><line x1="296" x2="443" transform="rotate(355.2)"/><line x1="296" x2="443" transform="rotate(356.2)"/><line x1="296" x2="443" transform="rotate(357.8)"/><line x1="296" x2="443" transform="rotate(359.1)"/>
<line x1="443" x2="592" transform="rotate(61.4)"/><line x1="443" x2="592" transform="rotate(62.2)"/><line x1="443" x2="592" transform="rotate(66.6)"/><line x1="443" x2="592" transform="rotate(69.5)"/><line x1="443" x2="592" transform="rotate(75.2)"/><line x1="443" x2="592" transform="rotate(75.9)"/><line x1="443" x2="592" transform="rotate(78.6)"/><line x1="443" x2="592" transform="rotate(79.4)"/><line x1="443" x2="592" transform="rotate(82.6)"/><line x1="443" x2="592" transform="rotate(83.6)"/><line x1="443" x2="592" transform="rotate(332.4)"/><line x1="443" x2="592" transform="rotate(339.8)"/>
</g>
</g>
</g>
<text id="caption" x="543" y="1021" font-family="'Open Sans','Noto Sans',sans-serif" font-size="73" fill="#000" textLength="730" lengthAdjust="spacingAndGlyphs">Inclou 1450 malalties</text>
</svg>
